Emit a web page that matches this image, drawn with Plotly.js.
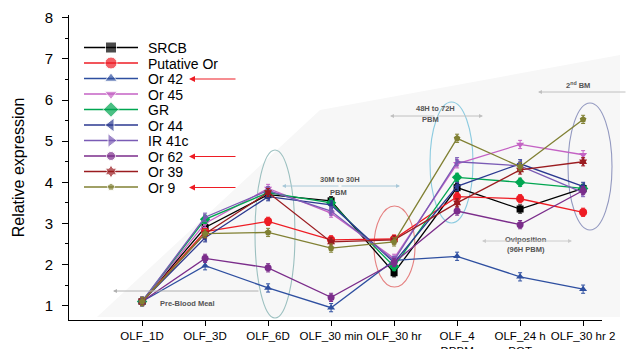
<!DOCTYPE html>
<html><head><meta charset="utf-8">
<script src="https://cdn.plot.ly/plotly-3.0.1.min.js"></script>
<style>html,body{margin:0;padding:0;background:#fff}#chart{width:627px;height:349px}</style>
</head><body><div id="chart"></div>
<script>
// ---- data ----
const categories = ['OLF_1D','OLF_3D','OLF_6D','OLF_30 min','OLF_30 hr','OLF_4<br>DPBM','OLF_24 h<br>POT','OLF_30 hr 2'];
const seriesNames = ['SRCB','Putative Or','Or 42','Or 45','GR','Or 44','IR 41c','Or 62','Or 39','Or 9'];
const srcb       = [1.1, 2.9, 3.7, 3.55, 1.8, 3.87, 3.35, 3.85];
const putativeOr = [1.1, 2.8, 3.05, 2.6, 2.62, 3.65, 3.6, 3.27];
const or42       = [1.1, 1.97, 1.43, 0.95, 2.1, 2.2, 1.7, 1.4];
const or45       = [1.1, 3.0, 3.85, 3.25, 2.15, 4.45, 4.92, 4.67];
const gr         = [1.1, 3.1, 3.75, 3.5, 1.95, 4.12, 4.0, 3.85];
const or44       = [1.1, 2.65, 3.65, 3.45, 2.05, 3.9, 4.45, 3.9];
const ir41c      = [1.1, 3.15, 3.8, 3.3, 2.1, 4.5, 4.4, 3.75];
const or62       = [1.1, 2.15, 1.92, 1.2, 2.05, 3.3, 2.97, 3.8];
const or39       = [1.1, 2.75, 3.75, 2.55, 2.6, 3.5, 4.3, 4.5];
const or9        = [1.1, 2.75, 2.78, 2.4, 2.55, 5.07, 4.38, 5.53];
const values = [srcb, putativeOr, or42, or45, gr, or44, ir41c, or62, or39, or9];
const markedSeries = ['Or 42','Or 62','Or 9'];

// ---- styles ----
const colors  = ['#000000','#ee1c24','#2e4fa0','#c462c4','#00a651','#2b3990','#7a5bb5','#7b2d8b','#9b1c20','#808033'];
const symbols = ['square','circle','triangle-up','triangle-down','diamond','triangle-left','triangle-right','circle','hexagram','pentagon'];
const legSize = [11,12,11,11,12,12,12,9,10,8];
const plotSize= [7,8,7,7,8,7,7,7,7,7];

// plot area in pixels
const L=69, R=602, T=15, B=320;
const px = x => (x-L)/(R-L);
const py = y => (B-y)/(B-T);

const traces = [];
seriesNames.forEach((n,i)=>{
  traces.push({
    type:'scatter', mode:'lines+markers', name:n, x:categories, y:values[i],
    line:{color:colors[i], width:1.3},
    marker:{symbol:symbols[i], size:plotSize[i], color:colors[i]},
    error_y:{type:'constant', value:0.1, color:colors[i], thickness:1, width:2},
    showlegend:false, cliponaxis:false
  });
});
// manual legend keys (hidden pixel axes)
const legX0=84, legXm=111, legX1=138, legY0=47.5, legDy=15.5;
seriesNames.forEach((n,i)=>{
  const ry = legY0 + i*legDy;
  traces.push({
    type:'scatter', mode:'lines+markers', xaxis:'x2', yaxis:'y2',
    x:[legX0,legXm,legX1], y:[ry,ry,ry],
    line:{color:colors[i], width:1.6},
    marker:{symbol:symbols[i], size:[0,legSize[i],0], color:colors[i]},
    showlegend:false, hoverinfo:'skip', cliponaxis:false
  });
});

const annotations = [];
seriesNames.forEach((n,i)=>{
  const ry = legY0 + i*legDy;
  annotations.push({xref:'paper', yref:'paper', x:px(146), y:py(ry+0.5), text:n, showarrow:false,
    xanchor:'left', yanchor:'middle', font:{family:'Arial, Liberation Sans, sans-serif', size:14, color:'#000'}});
  if (markedSeries.includes(n)) {
    annotations.push({xref:'paper', yref:'paper', x:px(189), y:py(ry+0.5), ax:px(237), ay:py(ry+0.5),
      axref:'paper', ayref:'paper', text:'', showarrow:true, arrowhead:2, arrowsize:1, arrowwidth:1.2, arrowcolor:'#ee1c24'});
  }
});
const noteFont = {family:'Arial, Liberation Sans, sans-serif', size:7.5, color:'#555'};
function note(x,y,t){annotations.push({xref:'paper',yref:'paper',x:px(x),y:py(y),text:'<b>'+t+'</b>',showarrow:false,font:noteFont,xanchor:'center',yanchor:'middle'});}
note(187,303,'Pre-Blood Meal');
note(340,180,'30M to 30H');
note(338,192,'PBM');
note(435,108,'48H to 72H');
note(430,119,'PBM');
note(578,85,'2<sup>nd</sup> BM');
note(526,239,'Oviposition');
note(526,249,'(96H PBM)');
function arrow(x0,y,x1,col){ // arrow head at x1
  annotations.push({xref:'paper',yref:'paper',x:px(x1),y:py(y),ax:px(x0),ay:py(y),axref:'paper',ayref:'paper',
    text:'',showarrow:true,arrowhead:2,arrowsize:0.8,arrowwidth:1,arrowcolor:col});
}
arrow(260,291,113,'#b0b0b0');
arrow(340,186,282,'#a8c8d8'); arrow(340,186,400,'#a8c8d8');
arrow(436,116,390,'#c0c0c0'); arrow(436,116,483,'#c0c0c0');
arrow(627,92,538,'#c0c0c0');
arrow(527,241,482,'#cccccc'); arrow(527,241,572,'#cccccc');

function ell(x0,y0,x1,y1,col){return {type:'circle',xref:'paper',yref:'paper',x0:px(x0),x1:px(x1),y0:py(y1),y1:py(y0),line:{color:col,width:1.1},layer:'below'};}
const shapes = [
  {type:'path', xref:'paper', yref:'paper', layer:'below', line:{width:0}, fillcolor:'#f7f7f7',
   path:`M ${px(97)},${py(317)} L ${px(320)},${py(110)} L ${px(620)},${py(55)} L ${px(620)},${py(317)} Z`},
  ell(255,150,295,318,'#9cc0c0'),
  ell(374,206,415,287,'#e58080'),
  ell(430,102,473,223,'#8ccbe0'),
  ell(568,103,612,230,'#9399c0')
];

const layout = {
  width:627, height:349, margin:{l:L, r:627-R, t:T, b:349-B},
  paper_bgcolor:'#fff', plot_bgcolor:'rgba(0,0,0,0)',
  font:{family:'Arial, Liberation Sans, sans-serif', color:'#000'},
  xaxis:{type:'category', range:[-1.16,7.3], showline:true, linecolor:'#000', linewidth:1, ticks:'outside', ticklen:5,
    tickcolor:'#000', showgrid:false, zeroline:false, tickfont:{size:11.5}, fixedrange:true},
  yaxis:{range:[0.65,8.07], tick0:1, dtick:1, showline:true, linecolor:'#000', linewidth:1, ticks:'outside', ticklen:6,
    tickcolor:'#000', showgrid:false, zeroline:false, tickfont:{size:15}, ticklabelstandoff:6,
    minor:{dtick:0.5, tick0:0.5, ticks:'outside', ticklen:3, tickcolor:'#000', showgrid:false},
    title:{text:'Relative expression', font:{size:16}, standoff:16}, fixedrange:true},
  xaxis2:{overlaying:'x', range:[L,R], visible:false, fixedrange:true},
  yaxis2:{overlaying:'y', range:[B,T], visible:false, fixedrange:true},
  annotations, shapes, showlegend:false
};
Plotly.newPlot('chart', traces, layout, {displayModeBar:false, staticPlot:true});
</script></body></html>
